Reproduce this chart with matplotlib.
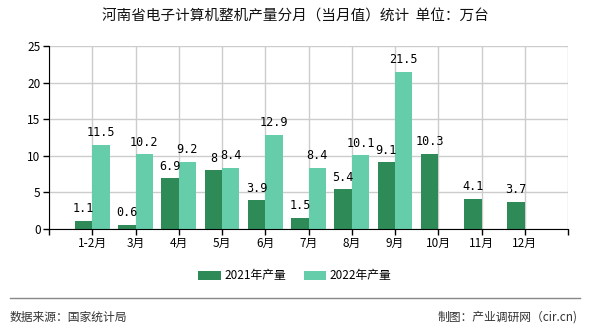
import matplotlib
matplotlib.use('Agg')
from matplotlib import pyplot as plt
import numpy as np

plt.rcParams['font.family'] = ['Noto Sans CJK SC', 'DejaVu Sans']

months = ['1-2月', '3月', '4月', '5月', '6月', '7月', '8月', '9月', '10月', '11月', '12月']
prod_2021 = [1.1, 0.6, 6.9, 8, 3.9, 1.5, 5.4, 9.1, 10.3, 4.1, 3.7]
prod_2022 = [11.5, 10.2, 9.2, 8.4, 12.9, 8.4, 10.1, 21.5]
yticks = [0, 5, 10, 15, 20, 25]

c21 = '#2e8b57'
c22 = '#66cdaa'

fig = plt.figure(figsize=(5.9, 3.3), dpi=100)
ax = fig.add_axes([49/590, 1-229/330, 519/590, 183/330])

x21 = np.arange(len(prod_2021))
x22 = np.arange(len(prod_2022))
w = 0.4
b1 = ax.bar(x21 - w/2, prod_2021, w, color=c21, label='2021年产量', zorder=3)
b2 = ax.bar(x22 + w/2, prod_2022, w, color=c22, label='2022年产量', zorder=3)

for bars, vals in ((b1, prod_2021), (b2, prod_2022)):
    for r, v in zip(bars, vals):
        ax.annotate('%g' % v, (r.get_x() + r.get_width()/2, v),
                    xytext=(0, 4), textcoords='offset points',
                    ha='center', va='bottom', fontsize=8.5,
                    family=['DejaVu Sans Mono'])

ax.set_xlim(-1, len(months))
ax.set_ylim(0, 25)
ax.set_xticks(np.arange(-1, len(months) + 1))
ax.set_xticklabels([''] + months + [''], fontsize=8.5)
ax.set_yticks(yticks)
ax.set_yticklabels([str(v) for v in yticks], fontsize=8.5)
ax.grid(color='#cccccc', linewidth=1, zorder=0)
ax.tick_params(length=4, width=1, color='black', pad=2)
for s in ('top', 'right'):
    ax.spines[s].set_visible(False)
for s in ('left', 'bottom'):
    ax.spines[s].set_color('black')
    ax.spines[s].set_zorder(4)

fig.text(0.5, 1-17/330, '河南省电子计算机整机产量分月（当月值）统计  单位：万台',
         ha='center', va='center', fontsize=10.5, color='#111111')

fig.legend(handles=[b1, b2], loc='center', bbox_to_anchor=(0.5, 1-276/330),
           ncol=2, frameon=False, fontsize=8.5, handlelength=1.9,
           handleheight=0.8, columnspacing=1.5, handletextpad=0.3)

fig.add_artist(plt.Line2D([10/590, 580/590], [1-298/330, 1-298/330],
                          color='#888888', linewidth=1))
fig.text(10/590, 1-317/330, '数据来源：国家统计局', ha='left', va='center',
         fontsize=8.5, color='#333333')
fig.text(578/590, 1-317/330, '制图：产业调研网（cir.cn)', ha='right', va='center',
         fontsize=8.5, color='#333333')

fig.savefig('out.png', dpi=100)
